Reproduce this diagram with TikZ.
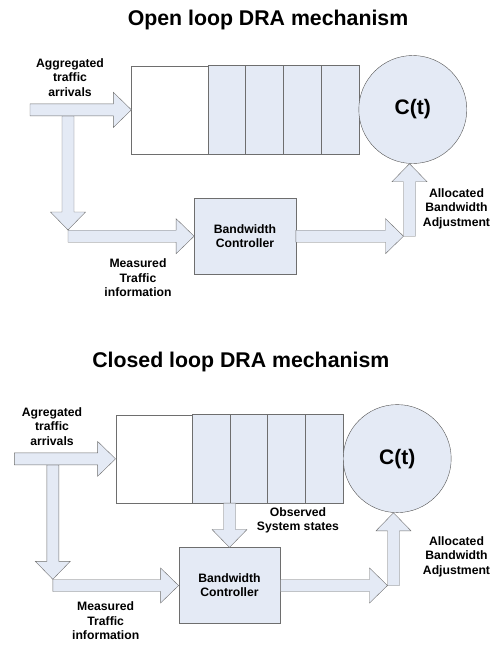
\documentclass[tikz,border=0pt]{standalone}
\usepackage{fontspec}
\setmainfont{Liberation Sans}
\usetikzlibrary{calc}
\definecolor{boxfill}{RGB}{228,234,245}
\definecolor{edge}{RGB}{110,110,110}
\definecolor{rim}{RGB}{85,85,85}
\begin{document}
\begin{tikzpicture}[x=1pt,y=-1pt,
  lbl/.style={align=center, inner sep=0pt, font=\fontsize{12.2}{14.6}\selectfont\bfseries},
  title/.style={inner sep=0pt, font=\fontsize{21.3}{24}\selectfont\bfseries},
  queue/.style={draw=edge, fill=white, minimum width=227.5pt, minimum height=88pt, inner sep=0pt},
  ctrlbox/.style={draw=edge, fill=boxfill, minimum width=101.4pt, minimum height=75.7pt,
    inner sep=0pt, align=center, font=\fontsize{12.2}{14}\selectfont\bfseries},
  server/.style={circle, draw=rim, fill=boxfill, minimum size=108pt, inner sep=0pt,
    font=\fontsize{21}{24}\selectfont\bfseries},
  % wide hollow arrow from the start point to the target point (tip at the target)
  blockarrow/.style={draw=edge, fill=boxfill, line join=miter,
    to path={let \p1=(\tikztostart), \p2=(\tikztotarget),
      \n{ang}={atan2(\y2-\y1,\x2-\x1)},
      \n{len}={veclen(\x2-\x1,\y2-\y1)-18} in
      ([shift={(\p1)},rotate=\n{ang}]0pt,-6pt)
      -- ([shift={(\p1)},rotate=\n{ang}]\n{len},-6pt)
      -- ([shift={(\p1)},rotate=\n{ang}]\n{len},-17.5pt)
      -- (\p2)
      -- ([shift={(\p1)},rotate=\n{ang}]\n{len},17.5pt)
      -- ([shift={(\p1)},rotate=\n{ang}]\n{len},6pt)
      -- ([shift={(\p1)},rotate=\n{ang}]0pt,6pt) -- cycle}}
]
\useasboundingbox (0,0) rectangle (492,646);

% ---------------- open loop ----------------
\node[title] (t1) at (268,20) {Open loop DRA mechanism};

\node[queue] (q1) at (245.35,109.85) {};
\draw[draw=edge, fill=boxfill] ([xshift=-151.6pt]q1.north east) rectangle (q1.south east);
\foreach \k in {1,2,3}
  \draw[edge] ([xshift=-\k*37.9pt]q1.north east) -- ([xshift=-\k*37.9pt]q1.south east);
\node[server] (c1) at (412.8,109.5) {C(t)};
\node[ctrlbox] (k1) at (245,236.2) {Bandwidth\\Controller};

\coordinate (in1) at (30,109.85);
\coordinate (tap1) at (68,116);
\coordinate (drop1) at (68,230);
\coordinate (turn1) at (409.5,236.2);

\draw[blockarrow] (tap1) to (drop1);
\draw[blockarrow] (in1) to (q1.west);
\draw[blockarrow] (drop1 |- k1.west) to (k1.west);
\draw[blockarrow] (turn1) to (turn1 |- c1.south);
\draw[blockarrow] (k1.east) to ([xshift=-6pt]turn1);

\node[lbl] (a1) at (70,77.5) {Aggregated\\traffic\\arrivals};
\node[lbl] (m1) at (138,278) {Measured\\Traffic\\information};
\node[lbl] (b1) at (456.5,208.5) {Allocated\\Bandwidth\\Adjustment};

% ---------------- closed loop ----------------
\node[title] (t2) at (240.8,361.7) {Closed loop DRA mechanism};

\node[queue] (q2) at (229.5,458.85) {};
\draw[draw=edge, fill=boxfill] ([xshift=-151.6pt]q2.north east) rectangle (q2.south east);
\foreach \k in {1,2,3}
  \draw[edge] ([xshift=-\k*37.9pt]q2.north east) -- ([xshift=-\k*37.9pt]q2.south east);
\node[server] (c2) at (397.2,458.6) {C(t)};
\node[ctrlbox] (k2) at (229.5,585.5) {Bandwidth\\Controller};

\coordinate (in2) at (14.3,458.85);
\coordinate (tap2) at (52.8,465);
\coordinate (drop2) at (52.8,579.3);
\coordinate (turn2) at (393.5,585.5);

\draw[blockarrow] (tap2) to (drop2);
\draw[blockarrow] (in2) to (q2.west);
\draw[blockarrow] (drop2 |- k2.west) to (k2.west);
\draw[blockarrow] (q2.south) to (k2.north);
\draw[blockarrow] (turn2) to (turn2 |- c2.south);
\draw[blockarrow] (k2.east) to ([xshift=-6pt]turn2);

\node[lbl] (a2) at (52,426.5) {Agregated\\traffic\\arrivals};
\node[lbl] (m2) at (105.7,621) {Measured\\Traffic\\information};
\node[lbl] (o2) at (298,520.5) {Observed\\System states};
\node[lbl] (b2) at (456.5,556.5) {Allocated\\Bandwidth\\Adjustment};
\end{tikzpicture}
\end{document}
